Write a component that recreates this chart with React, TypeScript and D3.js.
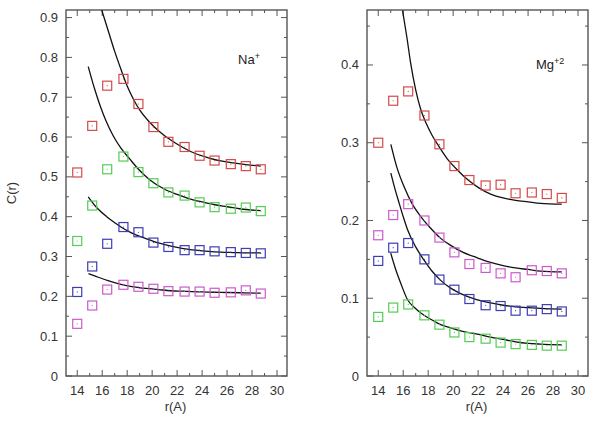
import { useEffect, useRef } from "react";
import * as d3 from "d3";

const R_VALUES = [14, 15.2, 16.4, 17.7, 18.9, 20.1, 21.3, 22.6, 23.8, 25.0, 26.3, 27.5, 28.7];

// Na+ panel, simulated points
const NA_RED = [0.511, 0.628, 0.729, 0.746, 0.683, 0.625, 0.588, 0.575, 0.553, 0.541, 0.532, 0.527, 0.519];
const NA_GREEN = [0.339, 0.428, 0.519, 0.551, 0.512, 0.484, 0.461, 0.453, 0.436, 0.424, 0.42, 0.423, 0.414];
const NA_BLUE = [0.211, 0.275, 0.332, 0.374, 0.361, 0.335, 0.324, 0.316, 0.316, 0.313, 0.311, 0.309, 0.308];
const NA_MAGENTA = [0.131, 0.177, 0.217, 0.229, 0.224, 0.219, 0.213, 0.212, 0.212, 0.209, 0.21, 0.215, 0.207];

// Mg+2 panel, simulated points
const MG_RED = [0.3, 0.354, 0.366, 0.335, 0.298, 0.27, 0.252, 0.245, 0.246, 0.235, 0.236, 0.234, 0.229];
const MG_MAGENTA = [0.181, 0.207, 0.221, 0.2, 0.178, 0.159, 0.144, 0.139, 0.132, 0.127, 0.136, 0.135, 0.132];
const MG_BLUE = [0.148, 0.165, 0.171, 0.15, 0.124, 0.111, 0.099, 0.091, 0.09, 0.084, 0.084, 0.086, 0.083];
const MG_GREEN = [0.076, 0.088, 0.092, 0.078, 0.066, 0.056, 0.05, 0.048, 0.043, 0.041, 0.04, 0.039, 0.039];

// fitted curves, [r, C(r)]
const NA_FIT_RED: [number, number][] = [[15.96,0.919],[16.5,0.865],[17,0.815],[17.5,0.77],[18,0.728],[18.5,0.695],[19,0.668],[19.8,0.637],[20.5,0.616],[21.7,0.588],[22.5,0.573],[23.5,0.558],[24.5,0.548],[25.5,0.54],[26.5,0.535],[27.5,0.531],[28.7,0.527]];
const NA_FIT_GREEN: [number, number][] = [[14.88,0.777],[15.4,0.72],[15.82,0.68],[16.3,0.641],[16.9,0.602],[17.5,0.572],[18.2,0.545],[19,0.516],[19.8,0.493],[21,0.469],[22,0.456],[23,0.445],[24,0.437],[25,0.43],[26,0.425],[27,0.42],[28.7,0.415]];
const NA_FIT_BLUE: [number, number][] = [[14.88,0.45],[15.5,0.425],[16.36,0.4],[17,0.385],[17.5,0.374],[18.3,0.36],[19.5,0.345],[20.5,0.334],[21.5,0.326],[22.5,0.32],[23.5,0.316],[24.5,0.313],[25.5,0.311],[26.5,0.31],[27.5,0.309],[28.7,0.309]];
const NA_FIT_MAGENTA: [number, number][] = [[14.9,0.257],[15.5,0.25],[16.4,0.24],[17.5,0.23],[18.5,0.224],[19.5,0.22],[20.5,0.217],[21.5,0.214],[22.5,0.213],[24,0.211],[25.5,0.21],[27,0.209],[28.7,0.208]];

const MG_FIT_RED: [number, number][] = [[15.95,0.47],[16.3,0.435],[16.6,0.402],[17,0.368],[17.4,0.343],[17.81,0.326],[18.3,0.31],[18.87,0.295],[19.5,0.28],[20.34,0.265],[21.2,0.252],[22.06,0.242],[23,0.234],[24,0.229],[25,0.226],[26,0.224],[27,0.222],[28.7,0.221]];
const MG_FIT_MAGENTA: [number, number][] = [[15.01,0.298],[15.5,0.268],[16.08,0.243],[16.7,0.222],[17.41,0.205],[18.2,0.19],[19,0.177],[19.8,0.168],[20.8,0.159],[21.94,0.152],[23,0.146],[24,0.142],[25,0.139],[26,0.137],[27,0.135],[28.7,0.134]];
const MG_FIT_BLUE: [number, number][] = [[15.01,0.261],[15.35,0.24],[15.68,0.222],[16,0.205],[16.35,0.188],[17,0.166],[17.67,0.149],[18.3,0.135],[19,0.123],[19.8,0.113],[20.6,0.106],[21.94,0.098],[23,0.094],[24,0.091],[25,0.089],[26,0.088],[27,0.087],[28.7,0.086]];
const MG_FIT_GREEN: [number, number][] = [[15,0.158],[15.4,0.137],[15.81,0.119],[16.35,0.098],[16.9,0.088],[17.41,0.081],[18.2,0.073],[19,0.066],[19.8,0.062],[20.6,0.058],[21.94,0.054],[23,0.05],[24,0.047],[25,0.044],[26,0.042],[27,0.041],[28.7,0.04]];

const X_TICKS = [14, 16, 18, 20, 22, 24, 26, 28, 30];
const NA_Y_TICKS = [0, 0.1, 0.2, 0.3, 0.4, 0.5, 0.6, 0.7, 0.8, 0.9];
const MG_Y_TICKS = [0, 0.1, 0.2, 0.3, 0.4];

const RED = "#d44a4a", GREEN = "#55cc55", BLUE = "#3d3db4", MAGENTA = "#cc5acc";
const FONT = "Liberation Sans, Arial, sans-serif";
const AXIS = "#555";
const FS = 13;

interface Panel {
  x0: number; x1: number; yMax: number;
  yTicks: number[];
  series: { vals: number[]; color: string }[];
  fits: [number, number][][];
  label: string; sup: string; labelX: number; labelY: number;
  yTitle: boolean;
}

const PANELS: Panel[] = [
  { x0: 66, x1: 287, yMax: 0.919, yTicks: NA_Y_TICKS,
    series: [{ vals: NA_RED, color: RED }, { vals: NA_GREEN, color: GREEN }, { vals: NA_BLUE, color: BLUE }, { vals: NA_MAGENTA, color: MAGENTA }],
    fits: [NA_FIT_RED, NA_FIT_GREEN, NA_FIT_BLUE, NA_FIT_MAGENTA],
    label: "Na", sup: "+", labelX: 238, labelY: 64, yTitle: true },
  { x0: 367, x1: 588, yMax: 0.4707, yTicks: MG_Y_TICKS,
    series: [{ vals: MG_RED, color: RED }, { vals: MG_MAGENTA, color: MAGENTA }, { vals: MG_BLUE, color: BLUE }, { vals: MG_GREEN, color: GREEN }],
    fits: [MG_FIT_RED, MG_FIT_MAGENTA, MG_FIT_BLUE, MG_FIT_GREEN],
    label: "Mg", sup: "+2", labelX: 536, labelY: 69, yTitle: false },
];

const TOP = 10, BOTTOM = 376;

export default function App() {
  const svgRef = useRef<SVGSVGElement>(null);

  useEffect(() => {
    if (!svgRef.current) return;
    const svg = d3.select(svgRef.current);
    svg.selectAll("*").remove();

    PANELS.forEach(p => {
      const x = d3.scaleLinear().domain([13.1, 30.8]).range([p.x0, p.x1]);
      const y = d3.scaleLinear().domain([0, p.yMax]).range([BOTTOM, TOP]);
      const g = svg.append("g");

      // ticks, inward on all four sides
      const xMinor = d3.range(14, 31, 1);
      const yMinor = d3.range(0, p.yMax, 0.05);
      xMinor.forEach(v => {
        const len = v % 2 === 0 ? 6 : 3;
        g.append("line").attr("x1", x(v)).attr("x2", x(v)).attr("y1", BOTTOM).attr("y2", BOTTOM - len).attr("stroke", AXIS);
        g.append("line").attr("x1", x(v)).attr("x2", x(v)).attr("y1", TOP).attr("y2", TOP + len).attr("stroke", AXIS);
      });
      yMinor.forEach((v, i) => {
        const len = i % 2 === 0 ? 6 : 3;
        g.append("line").attr("x1", p.x0).attr("x2", p.x0 + len).attr("y1", y(v)).attr("y2", y(v)).attr("stroke", AXIS);
        g.append("line").attr("x1", p.x1).attr("x2", p.x1 - len).attr("y1", y(v)).attr("y2", y(v)).attr("stroke", AXIS);
      });

      g.append("rect").attr("x", p.x0).attr("y", TOP).attr("width", p.x1 - p.x0).attr("height", BOTTOM - TOP)
        .attr("fill", "none").attr("stroke", AXIS).attr("stroke-width", 1.4);

      g.selectAll(".xl").data(X_TICKS).join("text")
        .attr("x", d => x(d)).attr("y", BOTTOM + 19).attr("text-anchor", "middle")
        .attr("font-family", FONT).attr("font-size", FS).attr("fill", "#333").text(d => d);
      g.selectAll(".yl").data(p.yTicks).join("text")
        .attr("x", p.x0 - 8).attr("y", d => y(d) + 4.5).attr("text-anchor", "end")
        .attr("font-family", FONT).attr("font-size", FS).attr("fill", "#333").text(d => d3.format("~g")(d));

      g.append("text").attr("x", (p.x0 + p.x1) / 2 - 1).attr("y", BOTTOM + 35).attr("text-anchor", "middle")
        .attr("font-family", FONT).attr("font-size", FS).attr("fill", "#333").text("r(A)");
      if (p.yTitle) {
        g.append("text").attr("transform", `translate(16,${(TOP + BOTTOM) / 2}) rotate(-90)`).attr("text-anchor", "middle")
          .attr("font-family", FONT).attr("font-size", FS).attr("fill", "#333").text("C(r)");
      }

      const lbl = g.append("text").attr("x", p.labelX).attr("y", p.labelY)
        .attr("font-family", FONT).attr("font-size", FS).attr("fill", "#222").text(p.label);
      lbl.append("tspan").attr("dy", -5).attr("font-size", 9).text(p.sup);

      const clip = `clip${p.x0}`;
      svg.append("clipPath").attr("id", clip).append("rect")
        .attr("x", p.x0).attr("y", TOP).attr("width", p.x1 - p.x0).attr("height", BOTTOM - TOP);

      const line = d3.line<[number, number]>().x(d => x(d[0])).y(d => y(d[1])).curve(d3.curveMonotoneX);
      p.fits.forEach(f => {
        g.append("path").attr("d", line(f)).attr("fill", "none").attr("stroke", "#111")
          .attr("stroke-width", 1.3).attr("clip-path", `url(#${clip})`);
      });

      const s = 9;
      p.series.forEach(ser => {
        g.selectAll(null).data(ser.vals).join("rect")
          .attr("x", (_, i) => x(R_VALUES[i]) - s / 2).attr("y", d => y(d) - s / 2)
          .attr("width", s).attr("height", s).attr("fill", "none")
          .attr("stroke", ser.color).attr("stroke-width", 1.2);
        g.selectAll(null).data(ser.vals).join("circle")
          .attr("cx", (_, i) => x(R_VALUES[i])).attr("cy", d => y(d)).attr("r", 0.6)
          .attr("fill", ser.color);
      });
    });
  }, []);

  return <svg ref={svgRef} width={600} height={423} style={{ position: "absolute", left: 0, top: 0, background: "#fff" }} />;
}
